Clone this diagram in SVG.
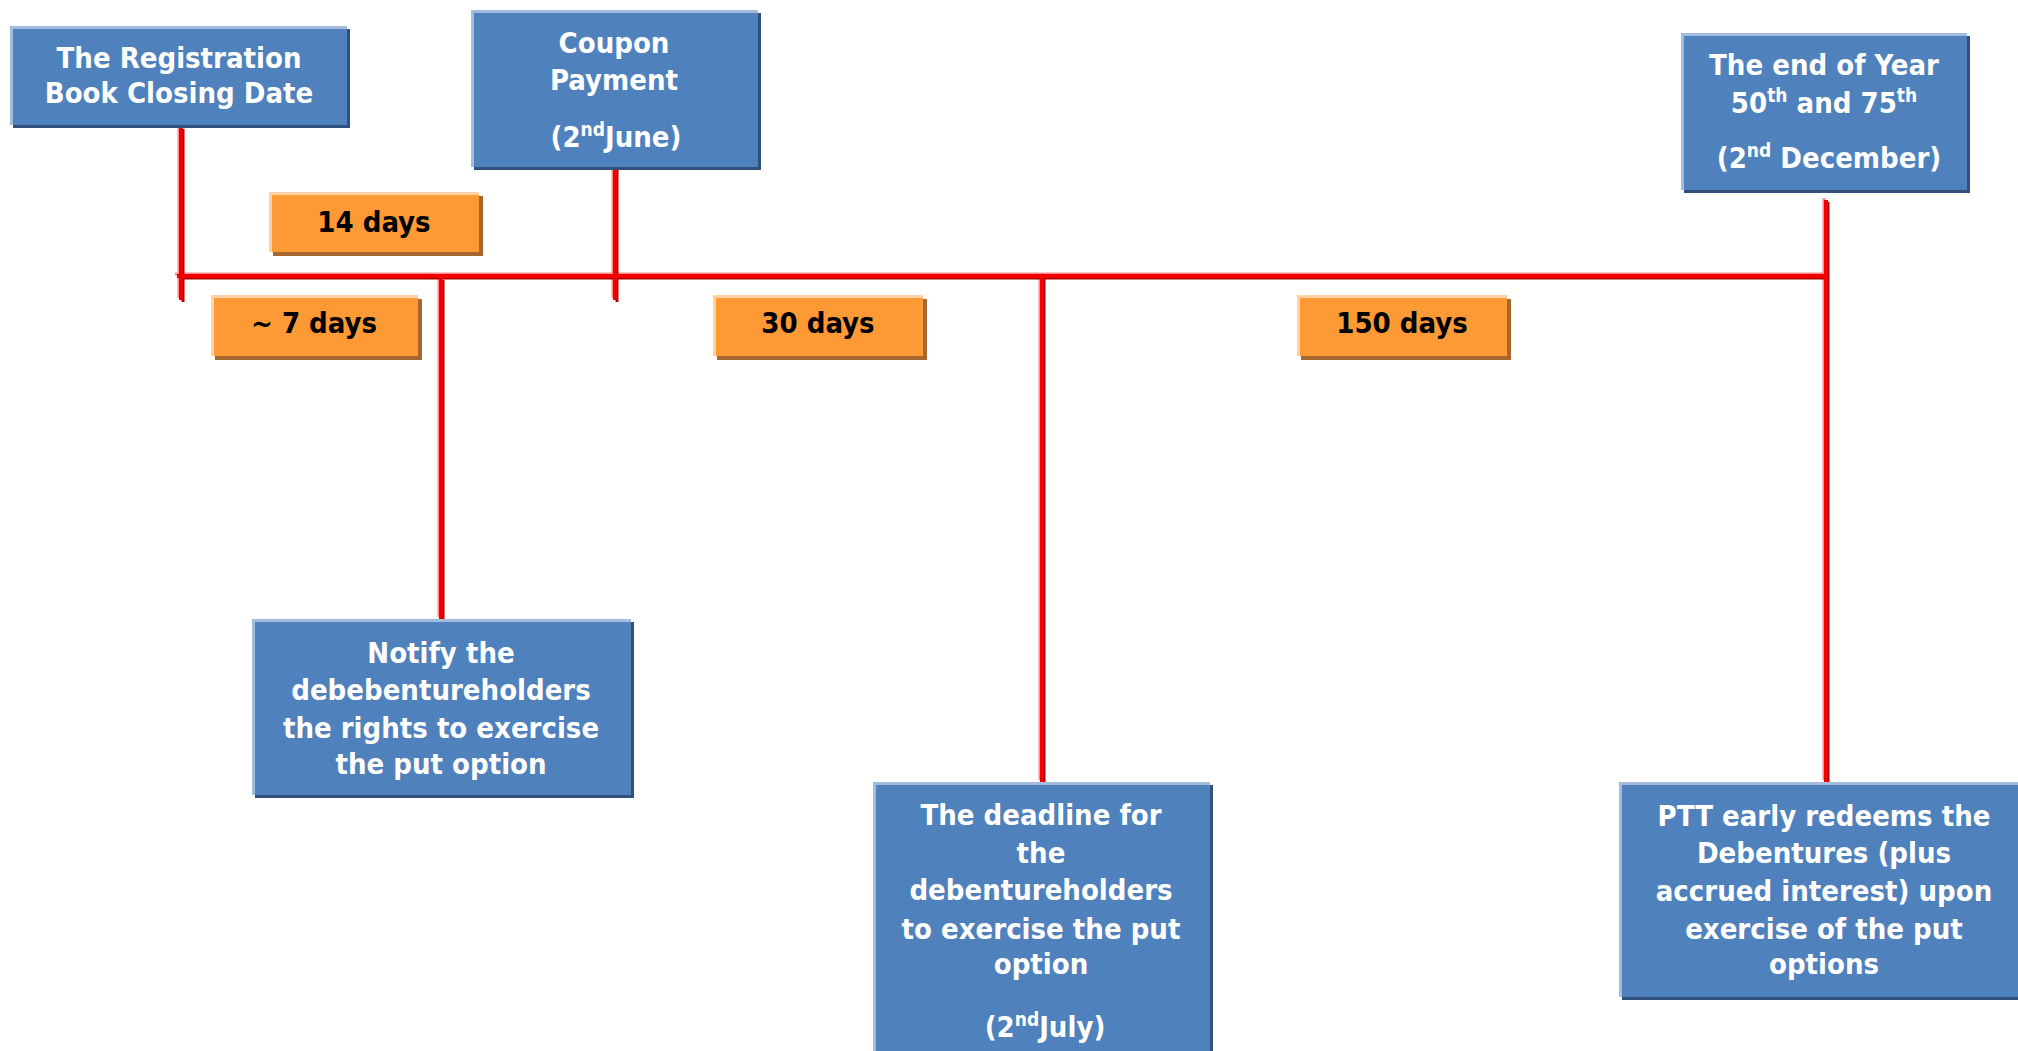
<svg xmlns="http://www.w3.org/2000/svg" xmlns:xlink="http://www.w3.org/1999/xlink" width="2018" height="1051" viewBox="0 0 2018 1051">
<style>
  .bshadow { fill: #31517C; }
  .bbox { fill: #4F81BD; }
  .bhi { fill: none; stroke: #A3BCDD; stroke-width: 3; }
  .oshadow { fill: #A5672B; }
  .obox { fill: #FD9A36; }
  .ohi { fill: none; stroke: #FFD2A3; stroke-width: 3; }
  text { font-family: "DejaVu Sans", "Liberation Sans", sans-serif; font-stretch: condensed; font-weight: bold; font-size: 29px; text-anchor: middle; }
  .wt { fill: #FFFFFF; }
  .bt { fill: #000000; }
  .sup { font-size: 19px; }
  .ln-hi { fill: none; stroke: #FF8C8C; stroke-width: 3; }
  .ln-dk { fill: none; stroke: #A80000; stroke-width: 3; }
  .ln { fill: none; stroke: #F20000; stroke-width: 4; }
</style>
<defs>
  <path id="lines" d="M177 276 H1826 M181 127 V300 M615 168 V300 M441 278 V619 M1042 276 V782 M1826 200 V782"/>
</defs>
<rect width="2018" height="1051" fill="#FFFFFF"/>

<g id="connectors">
  <use xlink:href="#lines" class="ln-hi" transform="translate(-2,-2)"/>
  <use xlink:href="#lines" class="ln-dk" transform="translate(2,2)"/>
  <use xlink:href="#lines" class="ln"/>
</g>

<g id="node-registration">
  <rect class="bshadow" x="13" y="29" width="337" height="99"/>
  <rect class="bbox" x="10" y="26" width="337" height="99"/>
  <path class="bhi" d="M11.5 125 V27.5 H347"/>
  <text class="wt" x="179" y="68">The Registration</text>
  <text class="wt" x="179" y="103">Book Closing Date</text>
</g>

<g id="node-coupon">
  <rect class="bshadow" x="474" y="13" width="287" height="157"/>
  <rect class="bbox" x="471" y="10" width="287" height="157"/>
  <path class="bhi" d="M472.5 167 V11.5 H758"/>
  <text class="wt" x="614" y="53">Coupon</text>
  <text class="wt" x="614" y="90">Payment</text>
  <text class="wt" x="616" y="147">(2<tspan class="sup" dy="-11">nd</tspan><tspan dy="11">June)</tspan></text>
</g>

<g id="node-yearend">
  <rect class="bshadow" x="1684" y="36" width="286" height="157"/>
  <rect class="bbox" x="1681" y="33" width="286" height="157"/>
  <path class="bhi" d="M1682.5 190 V34.5 H1967"/>
  <text class="wt" x="1824" y="75">The end of Year</text>
  <text class="wt" x="1824" y="113">50<tspan class="sup" dy="-11">th</tspan><tspan dy="11"> and 75</tspan><tspan class="sup" dy="-11">th</tspan></text>
  <text class="wt" x="1829" y="168">(2<tspan class="sup" dy="-11">nd</tspan><tspan dy="11"> December)</tspan></text>
</g>

<g id="node-notify">
  <rect class="bshadow" x="255" y="622" width="379" height="176"/>
  <rect class="bbox" x="252" y="619" width="379" height="176"/>
  <path class="bhi" d="M253.5 795 V620.5 H631"/>
  <text class="wt" x="441" y="663">Notify the</text>
  <text class="wt" x="441" y="700">debebentureholders</text>
  <text class="wt" x="441" y="738">the rights to exercise</text>
  <text class="wt" x="441" y="774">the put option</text>
</g>

<g id="node-deadline">
  <rect class="bshadow" x="876" y="785" width="337" height="280"/>
  <rect class="bbox" x="873" y="782" width="337" height="280"/>
  <path class="bhi" d="M874.5 1062 V783.5 H1210"/>
  <text class="wt" x="1041" y="825">The deadline for</text>
  <text class="wt" x="1041" y="863">the</text>
  <text class="wt" x="1041" y="900">debentureholders</text>
  <text class="wt" x="1041" y="939">to exercise the put</text>
  <text class="wt" x="1041" y="974">option</text>
  <text class="wt" x="1045" y="1037">(2<tspan class="sup" dy="-11">nd</tspan><tspan dy="11">July)</tspan></text>
</g>

<g id="node-ptt">
  <rect class="bshadow" x="1622" y="785" width="410" height="215"/>
  <rect class="bbox" x="1619" y="782" width="410" height="215"/>
  <path class="bhi" d="M1620.5 997 V783.5 H2029"/>
  <text class="wt" x="1824" y="826">PTT early redeems the</text>
  <text class="wt" x="1824" y="863">Debentures (plus</text>
  <text class="wt" x="1824" y="901">accrued interest) upon</text>
  <text class="wt" x="1824" y="939">exercise of the put</text>
  <text class="wt" x="1824" y="974">options</text>
</g>

<g id="label-14days">
  <rect class="oshadow" x="273" y="196" width="210" height="60"/>
  <rect class="obox" x="269" y="192" width="210" height="60"/>
  <path class="ohi" d="M270.5 252 V193.5 H479"/>
  <text class="bt" x="374" y="232">14 days</text>
</g>

<g id="label-7days">
  <rect class="oshadow" x="215" y="299" width="207" height="61"/>
  <rect class="obox" x="211" y="295" width="207" height="61"/>
  <path class="ohi" d="M212.5 356 V296.5 H418"/>
  <text class="bt" x="314" y="333">~ 7 days</text>
</g>

<g id="label-30days">
  <rect class="oshadow" x="717" y="299" width="210" height="61"/>
  <rect class="obox" x="713" y="295" width="210" height="61"/>
  <path class="ohi" d="M714.5 356 V296.5 H923"/>
  <text class="bt" x="818" y="333">30 days</text>
</g>

<g id="label-150days">
  <rect class="oshadow" x="1301" y="299" width="210" height="61"/>
  <rect class="obox" x="1297" y="295" width="210" height="61"/>
  <path class="ohi" d="M1298.5 356 V296.5 H1507"/>
  <text class="bt" x="1402" y="333">150 days</text>
</g>
</svg>
